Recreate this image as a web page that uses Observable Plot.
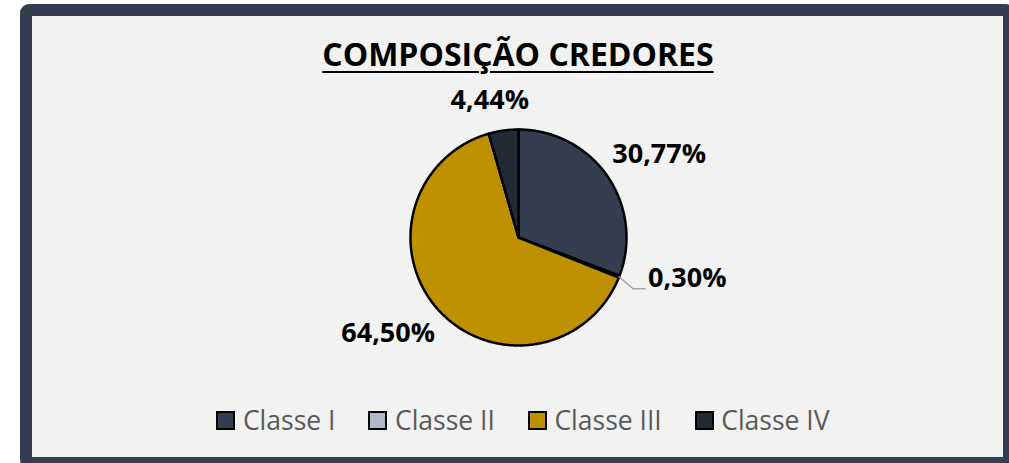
<!DOCTYPE html>
<html>
<head>
<meta charset="utf-8">
<script src="https://cdn.jsdelivr.net/npm/d3@7"></script>
<script src="https://cdn.jsdelivr.net/npm/@observablehq/plot@0.6"></script>
<style>
  html, body { margin: 0; padding: 0; background: #ffffff; width: 1009px; height: 463px; overflow: hidden; }
  .frame { position: absolute; left: 20px; top: 4px; width: 971px; height: 441px;
           border: 12px solid #333f50; border-radius: 9px; background: #f2f2f2; }
  .title { position: absolute; left: 0; top: 38px; width: 1036px; text-align: center;
           font-family: "Open Sans", sans-serif; font-weight: bold; font-size: 32px; line-height: 31px;
           color: #000; text-decoration: underline; text-decoration-thickness: 2px; text-underline-offset: 5px; }
  #chart { position: absolute; left: 0; top: 78px; }
  .legend { position: absolute; left: 0; top: 407px; width: 1046px; height: 26px; display: flex;
            justify-content: center; align-items: center; font-family: "Open Sans", sans-serif;
            font-size: 26.5px; line-height: 26px; color: #595959; }
  .item { display: flex; align-items: center; margin: 0 16.5px; }
  .sw { width: 19px; height: 19px; box-sizing: border-box; border: 2.5px solid #000; margin-right: 7.5px; }
</style>
</head>
<body>
<div class="frame"></div>
<div class="title">COMPOSIÇÃO CREDORES</div>
<div id="chart"></div>
<div class="legend" id="legend"></div>
<script>
const categories = ["Classe I", "Classe II", "Classe III", "Classe IV"];
const values = [30.77, 0.30, 64.50, 4.44];
const labels = ["30,77%", "0,30%", "64,50%", "4,44%"];
const colors = ["#333f50", "#adb9ca", "#bf9000", "#222a35"];

// layout constants (pixels)
const W = 1009, H = 320, R = 108, CX = 518, CY = 159;
const xDomain = [-CX / R, (W - CX) / R];
const yDomain = [-(H - CY) / R, CY / R];

const slices = d3.pie().sort(null).value(d => d.value)(
  categories.map((c, i) => ({cat: c, value: values[i], label: labels[i]}))
);

// polygon points for each slice, in unit-circle coordinates
const pts = [];
slices.forEach(s => {
  const n = Math.max(2, Math.ceil((s.endAngle - s.startAngle) / (Math.PI / 360)));
  pts.push({cat: s.data.cat, x: 0, y: 0});
  for (let k = 0; k <= n; k++) {
    const a = s.startAngle + (s.endAngle - s.startAngle) * k / n;
    pts.push({cat: s.data.cat, x: Math.sin(a), y: Math.cos(a)});
  }
  pts.push({cat: s.data.cat, x: 0, y: 0});
});

// label positions derived from mid angles ("outside end" placement)
const hitR = R + 20, hh = 10.5;
const bigLabels = [], smallLabels = [], leaders = [];
slices.forEach(s => {
  const a = (s.startAngle + s.endAngle) / 2;
  const ux = Math.sin(a), uy = Math.cos(a);
  if (s.data.value >= 1) {
    const hw = s.data.label.length * 7.85;
    const k = Math.sign(ux) * Math.min(0.75, 2 * Math.abs(ux));
    const cxp = hitR * ux + hw * k;
    const cyp = hitR * uy + hh * Math.sign(uy);
    bigLabels.push({x: cxp / R, y: cyp / R, label: s.data.label});
  } else {
    const ex = ux + 14 / R, ey = uy - 12 / R;
    const end = ex + 12 / R;
    leaders.push({id: s.data.cat, x: ux, y: uy}, {id: s.data.cat, x: ex, y: ey}, {id: s.data.cat, x: end, y: ey});
    smallLabels.push({x: end + 3 / R, y: ey + 10 / R, label: s.data.label});
  }
});

const chart = Plot.plot({
  width: W, height: H, margin: 0,
  x: {domain: xDomain, axis: null},
  y: {domain: yDomain, axis: null},
  color: {domain: categories, range: colors},
  style: {background: "transparent", overflow: "visible"},
  marks: [
    Plot.line(pts, {x: "x", y: "y", z: "cat", fill: "cat", stroke: "#000", strokeWidth: 2.5, strokeLinejoin: "round"}),
    Plot.line(leaders, {x: "x", y: "y", z: "id", stroke: "#a6a6a6", strokeWidth: 1.5}),
    Plot.text(bigLabels, {x: "x", y: "y", text: "label", textAnchor: "middle", lineAnchor: "middle",
      fontSize: 27, fontWeight: "bold", fontFamily: "Open Sans", fill: "#000"}),
    Plot.text(smallLabels, {x: "x", y: "y", text: "label", textAnchor: "start", lineAnchor: "middle",
      fontSize: 27, fontWeight: "bold", fontFamily: "Open Sans", fill: "#000"})
  ]
});
document.getElementById("chart").appendChild(chart);

const legend = document.getElementById("legend");
categories.forEach((c, i) => {
  const item = document.createElement("div");
  item.className = "item";
  const sw = document.createElement("div");
  sw.className = "sw";
  sw.style.background = colors[i];
  const t = document.createElement("span");
  t.textContent = c;
  item.appendChild(sw);
  item.appendChild(t);
  legend.appendChild(item);
});
</script>
</body>
</html>
